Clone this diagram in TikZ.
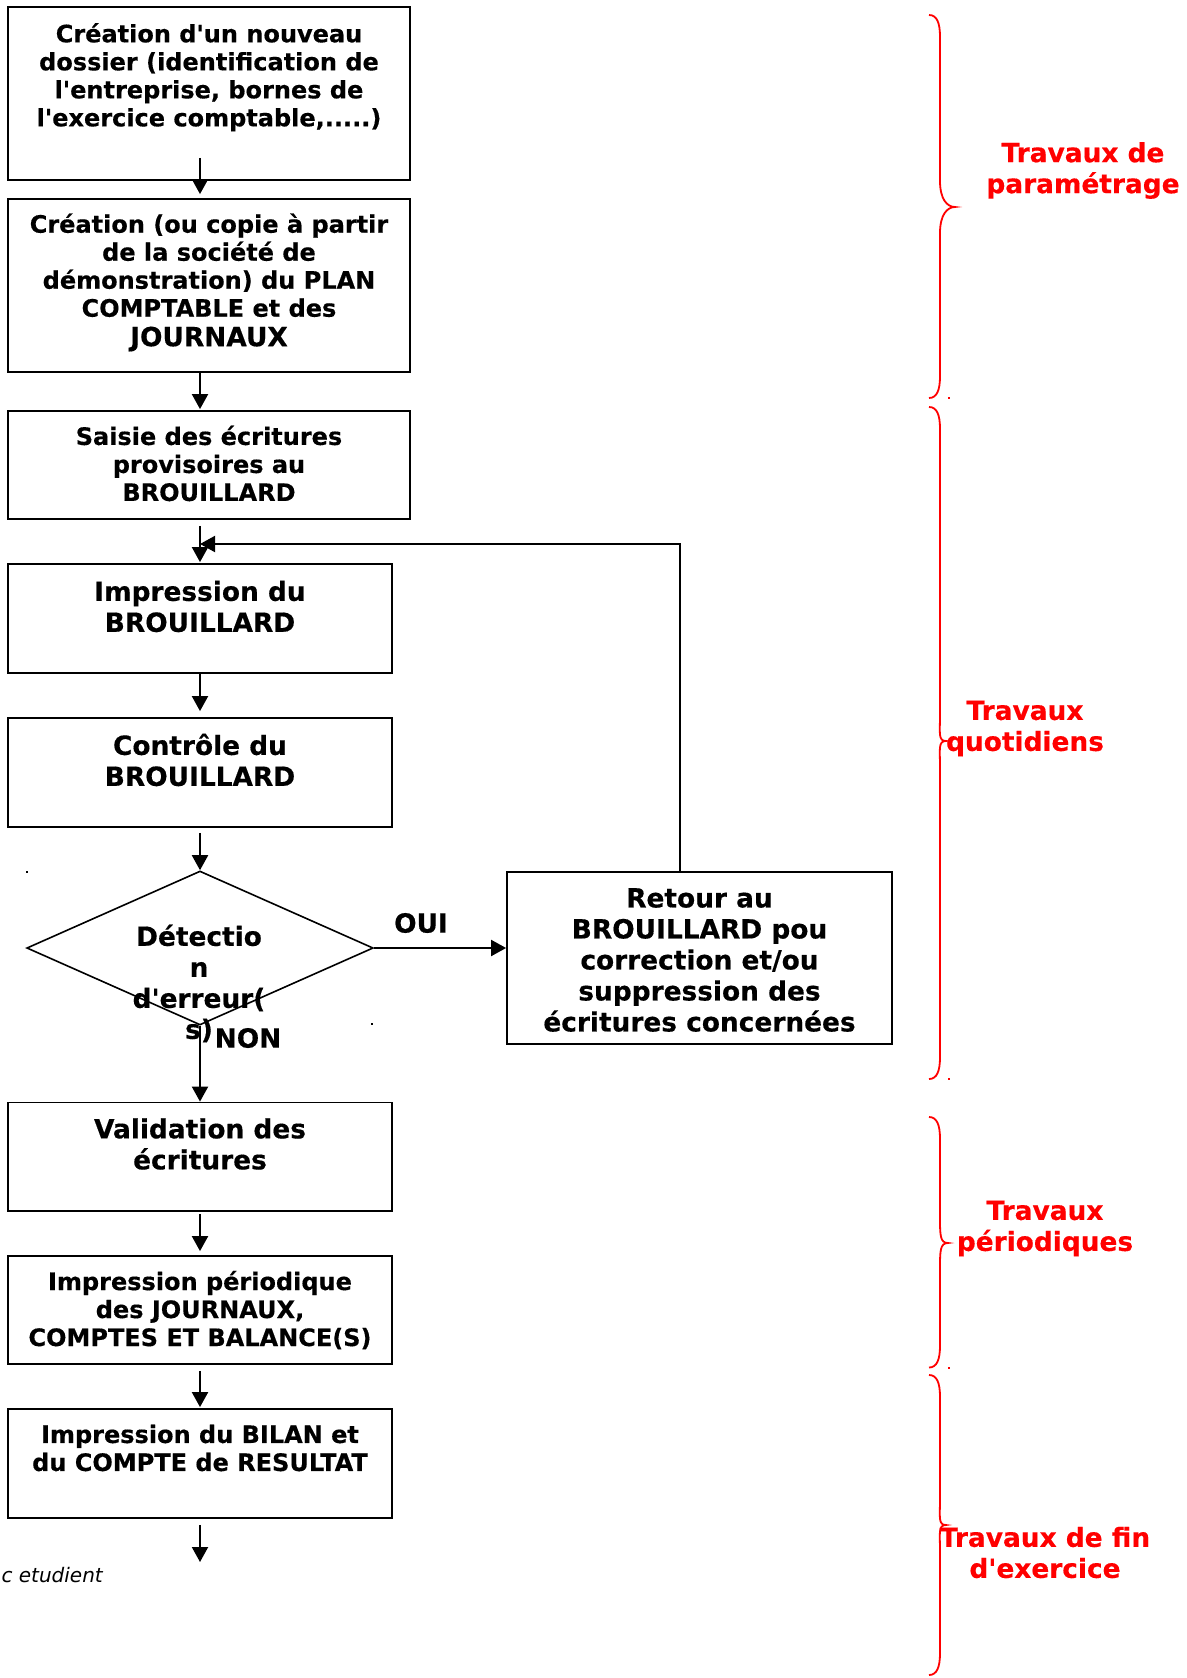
\documentclass[tikz,border=0pt]{standalone}
\usepackage{fontspec}
\newfontfamily\dejavu{DejaVu Sans}[BoldFeatures={FakeBold=0.4}]
\usetikzlibrary{arrows.meta,shapes.geometric}
\newcommand\boxfontA{\dejavu\bfseries\fontsize{24}{28}\selectfont}
\newcommand\boxfontB{\dejavu\bfseries\fontsize{26.4}{31}\selectfont}
\newcommand\redbrace[4]{%
  \draw[bracepen] (929,#1) .. controls (937,#1) and (940,#1+8) .. (940,#1+22)
    -- (940,#2-26) .. controls (940,#2-8) and (#4-8,#2) .. (#4,#2)
    .. controls (#4-8,#2) and (940,#2+8) .. (940,#2+26)
    -- (940,#3-22) .. controls (940,#3-8) and (937,#3) .. (929,#3);}
\begin{document}
\begin{tikzpicture}[x=1pt,y=-1pt,
  stepbox/.style={draw=black,line width=1.8pt,rectangle,inner sep=0pt},
  txtA/.style={align=center,inner sep=0pt,font=\boxfontA},
  txtB/.style={align=center,inner sep=0pt,font=\boxfontB},
  redtxt/.style={align=center,inner sep=0pt,font=\boxfontB,text=red},
  arr/.style={line width=2pt,-{Triangle[width=16pt,length=15pt]}},
  bracepen/.style={draw=red,line width=1.8pt}]
\useasboundingbox (0,0) rectangle (1186,1678);
% boxes
\node[stepbox,minimum width=402pt,minimum height=172.7pt] (b1) at (209,93.65) {};
\node[stepbox,minimum width=402pt,minimum height=173pt] (b2) at (209,285.5) {};
\node[stepbox,minimum width=402pt,minimum height=108pt] (b3) at (209,465) {};
\node[stepbox,minimum width=384pt,minimum height=109pt] (b4) at (200,618.5) {};
\node[stepbox,minimum width=384pt,minimum height=109pt] (b5) at (200,772.5) {};
\node[diamond,draw=black,line width=1.6pt,inner sep=0pt,minimum width=346.5pt,minimum height=154pt] (d) at (200,948) {};
\node[stepbox,minimum width=385pt,minimum height=172pt] (ret) at (699.5,958) {};
\node[stepbox,minimum width=384pt,minimum height=108.5pt] (val) at (200,1156.75) {};
\node[stepbox,minimum width=384pt,minimum height=108pt] (ip) at (200,1310) {};
\node[stepbox,minimum width=384pt,minimum height=109pt] (bil) at (200,1463.5) {};
% texts
\node[txtA] (t1) at (209,77.2) {Création d'un nouveau\\dossier (identification de\\l'entreprise, bornes de\\l'exercice comptable,.....)};
\node[txtA] (t2) at (209,282.5) {Création (ou copie à partir\\de la société de\\démonstration) du PLAN\\COMPTABLE et des\\[1.5pt]{\boxfontB JOURNAUX}};
\node[txtA] (t3) at (209,463.5) {Saisie des écritures\\provisoires au\\BROUILLARD};
\node[txtB] (t4) at (200,606.5) {Impression du\\BROUILLARD};
\node[txtB] (t5) at (200,760) {Contrôle du\\BROUILLARD};
\node[txtB] (td) at (199,983.5) {Détectio\\n\\d'erreur(\\s)};
\node[txtB] (tret) at (699.5,960) {Retour au\\BROUILLARD pou\\correction et/ou\\suppression des\\écritures concernées};
\node[txtB] (tval) at (200,1144) {Validation des\\écritures};
\node[txtA] (tip) at (200,1310) {Impression périodique\\des JOURNAUX,\\COMPTES ET BALANCE(S)};
\node[txtA] (tbil) at (200,1448) {Impression du BILAN et\\du COMPTE de RESULTAT};
\node[txtB] (oui) at (421,923) {OUI};
\node[txtB] (non) at (248,1038) {NON};
\node[anchor=base east,inner sep=0pt,font=\dejavu\itshape\fontsize{20}{24}\selectfont] (etu) at (103,1582) {c etudient};
% connectors
\coordinate (fb) at (200,544);
\coordinate (endarr) at (200,1562);
\draw[arr] ([xshift=-9pt,yshift=23pt]b1.south) -- ([xshift=-9pt,yshift=4pt]b2.north);
\draw[arr] ([xshift=-9pt]b2.south) -- ([xshift=-9pt,yshift=1pt]b3.north);
\draw[arr] ([xshift=-9pt,yshift=-6pt]b3.south) -- ([yshift=1pt]b4.north);
\draw[arr] (b4.south) -- ([yshift=6pt]b5.north);
\draw[arr] ([yshift=-5pt]b5.south) -- (d.north);
\draw[arr] (d.east) -- (d.east -| ret.west);
\draw[arr] ([xshift=-19.5pt]ret.north) |- (fb);
\draw[arr] (d.south) -- (val.north);
\draw[arr] ([yshift=-2pt]val.south) -- ([yshift=4pt]ip.north);
\draw[arr] ([yshift=-6pt]ip.south) -- ([yshift=1pt]bil.north);
\draw[arr] ([yshift=-6pt]bil.south) -- (endarr);
% small marks
\fill[black] (26,871) rectangle (28,873);
\fill[black] (371,1023) rectangle (373,1025);
\fill[red] (948,397) rectangle (950,399);
\fill[red] (948,1078) rectangle (950,1080);
\fill[red] (948,1367) rectangle (950,1369);
% braces
\redbrace{15}{207}{398}{955}
\redbrace{407}{741}{1079}{946}
\redbrace{1117}{1243}{1367.5}{948}
\redbrace{1375}{1525}{1675}{946}
% red labels
\node[redtxt] (r1) at (1083,170.5) {Travaux de\\paramétrage};
\node[redtxt] (r2) at (1025,728.5) {Travaux\\quotidiens};
\node[redtxt] (r3) at (1045,1228.5) {Travaux\\périodiques};
\node[redtxt] (r4) at (1045,1552.5) {Travaux de fin\\d'exercice};
\end{tikzpicture}
\end{document}
